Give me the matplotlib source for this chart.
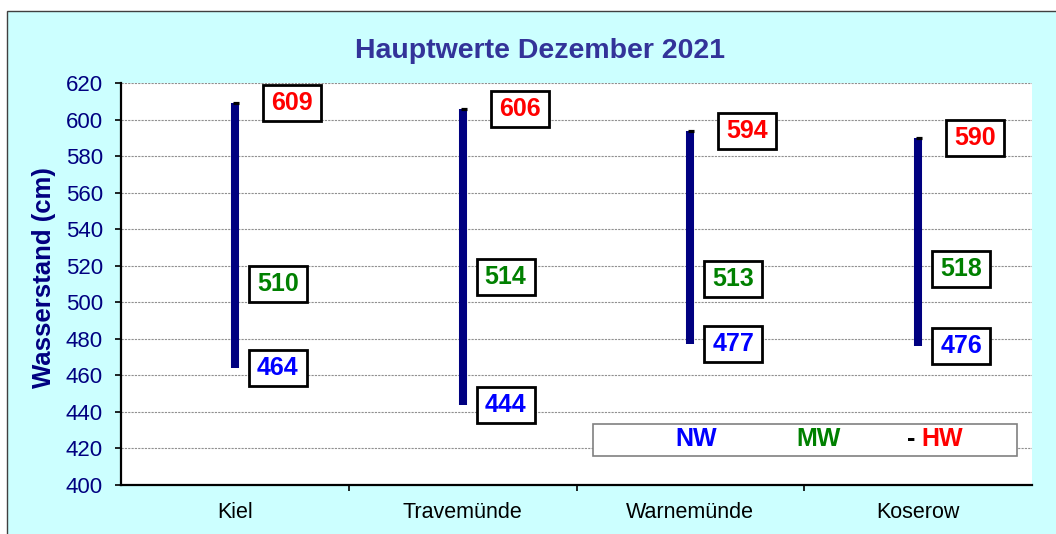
import matplotlib
matplotlib.use('Agg')
import matplotlib.pyplot as plt
from matplotlib.patches import Rectangle

stations = ['Kiel', 'Travemünde', 'Warnemünde', 'Koserow']
nw = [464, 444, 477, 476]
mw = [510, 514, 513, 518]
hw = [609, 606, 594, 590]
title = 'Hauptwerte Dezember 2021'
ylabel = 'Wasserstand (cm)'
yticks = list(range(400, 621, 20))
legend_labels = ['NW', 'MW', 'HW']

plt.rcParams['font.family'] = ['Liberation Sans', 'DejaVu Sans']

W, H = 1056, 534
fig = plt.figure(figsize=(W / 100, H / 100), dpi=100)
fig.patch.set_facecolor('white')
fig.patches.append(Rectangle((7 / W, -0.01), 1.0, 1.01 - 11 / H, transform=fig.transFigure,
                             facecolor='#CCFFFF', edgecolor='#404040', lw=1, figure=fig,
                             zorder=-5))

L, R, T, B = 121, 1032, 83, 485
ax = fig.add_axes([L / W, 1 - B / H, (R - L) / W, (B - T) / H])
ax.set_facecolor('white')
ax.set_xlim(-0.5, 3.5)
ax.set_ylim(400, 620)
ux = 4 / (R - L)        # data units per pixel
uy = 220 / (B - T)

x = list(range(len(stations)))
ax.vlines(x, nw, hw, color='#000080', lw=5.8, zorder=3)
ax.plot([xi + 1 * ux for xi in x], hw, ls='none', marker='_', color='black', ms=5, mew=2.3, zorder=4)

bw, bh = 58, 36
def label(xc, yc, txt, col):
    ax.add_patch(Rectangle((xc - bw / 2 * ux, yc - bh / 2 * uy), bw * ux, bh * uy,
                           facecolor='white', edgecolor='black', lw=2, zorder=5))
    ax.text(xc, yc, txt, ha='center', va='center', color=col, fontsize=18,
            fontweight='bold', zorder=6)

for i in x:
    label(i + 57 * ux, hw[i], str(hw[i]), '#FF0000')
    label(i + 43 * ux, mw[i], str(mw[i]), '#008000')
    label(i + 43 * ux, nw[i], str(nw[i]), '#0000FF')

ax.set_yticks(yticks)
ax.tick_params(axis='y', labelsize=16, labelcolor='#000080', direction='out', length=4.5,
               width=1.2, color='black', pad=8.5)
ax.yaxis.grid(True, ls=(0, (2, 1)), color='#909090', lw=0.8)
ax.set_axisbelow(True)

ax.set_xticks([0.5, 1.5, 2.5])
ax.set_xticklabels([])
ax.set_xticks(x, minor=True)
ax.set_xticklabels(stations, minor=True)
ax.tick_params(axis='x', which='major', direction='out', length=4.5, width=1.2)
ax.tick_params(axis='x', which='minor', length=0, labelsize=15.5, pad=12, labelcolor='black')

for s in ['top', 'right']:
    ax.spines[s].set_visible(False)
for s in ['left', 'bottom']:
    ax.spines[s].set_linewidth(1.6)
    ax.spines[s].set_color('black')

ax.set_ylabel(ylabel, fontsize=18.5, fontweight='bold', color='#000080', va='center')
ax.yaxis.set_label_coords(-(L - 44) / (R - L), (B - 278) / (B - T))

fig.text(540 / W, 1 - 51 / H, title, ha='center', va='center', fontsize=20.5,
         fontweight='bold', color='#333399')

# legend box
lx0, lx1, ly0, ly1 = 593, 1017, 424, 456
fig.patches.append(Rectangle((lx0 / W, 1 - ly1 / H), (lx1 - lx0) / W, (ly1 - ly0) / H,
                             transform=fig.transFigure, facecolor='white', edgecolor='#808080',
                             lw=1.2, figure=fig, zorder=10))
ly = 1 - 439 / H
for txt, xc, col in zip(legend_labels, [696, 819, 942], ['#0000FF', '#008000', '#FF0000']):
    fig.text(xc / W, ly, txt, ha='center', va='center', fontsize=18, fontweight='bold',
             color=col, zorder=11)
fig.text(911 / W, ly, '-', ha='center', va='center', fontsize=18, fontweight='bold',
         color='black', zorder=11)

fig.savefig('out.png', dpi=100)
